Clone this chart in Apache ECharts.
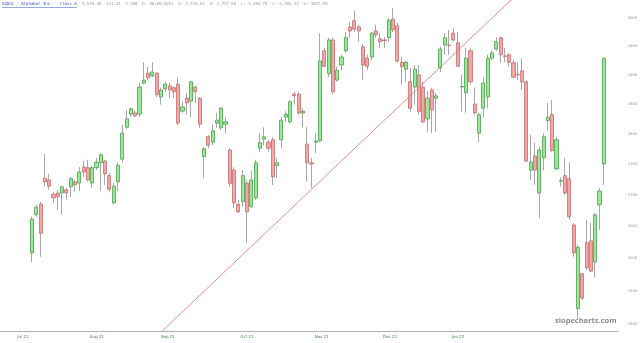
<!DOCTYPE html>
<html>
<head>
<meta charset="utf-8">
<script src="https://cdn.jsdelivr.net/npm/echarts@6/dist/echarts.min.js"></script>
<style>html,body{margin:0;padding:0;background:#fff}#c{width:640px;height:343px}</style>
</head>
<body>
<div id="c"></div>
<script>
// ---- data ----
const opens  = [2608,2668,2685,2727,2724,2701,2703,2703,2708,2713,2721,2719,2745,2744,2719,2744,2752,2755,2731,2687,2721,2758,2811,2833,2835,2833,2886,2903,2898,2903,2862,2876,2881,2878,2884,2838,2860,2855,2879,2860,2762,2795,2786,2818,2810,2816,2773,2740,2685,2689,2719,2681,2695,2776,2791,2786,2790,2747,2790,2828,2820,2867,2867,2835,2783,2752,2786,2788,2942,2902,2961,2891,2917,2942,2984,2995,2984,2949,2929,2931,2977,2963,2961,2965,2998,2986,2922,2910,2888,2879,2900,2879,2825,2874,2860,2912,2952,2952,2973,2956,2879,2869,2942,2850,2801,2843,2862,2929,2945,2965,2933,2935,2921,2901,2907,2888,2740,2763,2703,2760,2822,2832,2742,2722,2731,2726,2652,2523,2576,2624,2627,2594,2684,2750];
const closes = [2661,2680,2639,2721,2714,2695,2697,2713,2703,2726,2716,2737,2737,2724,2744,2753,2765,2734,2709,2714,2748,2801,2825,2842,2830,2879,2891,2895,2905,2866,2874,2884,2874,2871,2818,2845,2852,2888,2871,2816,2775,2781,2805,2823,2843,2820,2718,2687,2673,2731,2673,2724,2752,2785,2795,2776,2729,2752,2823,2833,2854,2864,2835,2838,2752,2750,2788,2924,2915,2961,2871,2908,2931,2965,2977,2980,2977,2917,2915,2973,2970,2958,2960,2996,2979,2924,2914,2922,2843,2910,2837,2820,2860,2840,2864,2945,2965,2951,2961,2915,2880,2929,2888,2835,2832,2886,2929,2938,2958,2935,2932,2922,2896,2900,2888,2755,2753,2740,2773,2795,2828,2772,2790,2723,2703,2665,2608,2617,2539,2585,2580,2668,2706,2929];
const lows   = [2594,2665,2602,2713,2708,2687,2676,2668,2692,2697,2705,2706,2729,2721,2711,2740,2706,2716,2705,2685,2706,2753,2808,2828,2828,2828,2884,2891,2896,2862,2849,2871,2860,2860,2815,2835,2832,2828,2852,2810,2727,2776,2781,2810,2806,2801,2713,2679,2671,2681,2624,2679,2692,2770,2781,2770,2716,2727,2776,2820,2818,2849,2832,2811,2721,2711,2768,2786,2914,2896,2866,2888,2908,2938,2965,2975,2958,2891,2908,2926,2965,2947,2947,2958,2975,2921,2883,2888,2837,2849,2832,2818,2803,2801,2803,2905,2935,2935,2958,2914,2837,2835,2883,2832,2786,2827,2843,2926,2942,2921,2922,2914,2895,2891,2874,2753,2724,2716,2663,2740,2806,2770,2740,2713,2700,2660,2602,2506,2536,2582,2579,2570,2644,2716];
const highs  = [2665,2684,2689,2767,2734,2705,2708,2714,2711,2729,2724,2745,2755,2757,2747,2760,2768,2757,2735,2719,2753,2815,2840,2843,2840,2886,2922,2914,2922,2905,2878,2888,2886,2879,2895,2854,2869,2890,2881,2862,2778,2798,2816,2835,2845,2828,2776,2745,2692,2740,2724,2740,2757,2801,2811,2790,2795,2760,2828,2838,2857,2871,2871,2843,2811,2760,2800,2973,2947,2965,2965,2914,2935,2975,2993,3013,2988,2954,2935,2975,2988,2973,2966,3000,3018,2991,2931,2924,2912,2917,2917,2888,2872,2878,2869,2949,2973,2979,2982,2975,2900,2947,2947,2878,2835,2895,2935,2943,2966,2966,2947,2938,2926,2922,2929,2891,2798,2785,2778,2801,2852,2857,2795,2729,2760,2753,2655,2621,2577,2660,2655,2671,2711,2929];
// x-axis tick labels and their bar positions
const xTickPos    = [-2.1, 15.1, 31.6, 50.0, 67.4, 83.3, 99.1];
const xTickLabels = ['Jul 21', 'Aug 21', 'Sep 21', 'Oct 21', 'Nov 21', 'Dec 21', 'Jan 22'];
// price tick labels
const yTicks = [2500, 2550, 2600, 2650, 2700, 2750, 2800, 2850, 2900, 2950, 3000];
// trend line end points [bar index, price]
const trendLine = [[25, 2457.8], [115, 3058.8]];

const bodies = opens.map((o, i) => [i, o, closes[i], Math.min(o, closes[i]), Math.max(o, closes[i])]);
const wicks  = opens.map((o, i) => [i, o, closes[i], lows[i], highs[i]]);

const chart = echarts.init(document.getElementById('c'), null, {renderer: 'canvas'});
chart.setOption({
  animation: false,
  backgroundColor: '#ffffff',
  grid: {left: 0, right: 22, top: 0, bottom: 12, containLabel: false},
  xAxis: {
    type: 'value', min: -7.44, max: 136.3,
    axisLine: {show: true, lineStyle: {color: '#b0b0b0', width: 1}},
    axisTick: {show: false},
    splitLine: {show: false},
    axisLabel: {
      customValues: xTickPos,
      formatter: v => { const k = xTickPos.findIndex(p => Math.abs(p - v) < 1e-6); return k >= 0 ? xTickLabels[k] : ''; },
      fontSize: 4, color: '#4a7a4a', margin: 4, fontFamily: 'DejaVu Sans'
    }
  },
  yAxis: {
    type: 'log', logBase: 10, position: 'right',
    min: 2489.6, max: 3032.3,
    axisLine: {show: false}, axisTick: {show: false}, splitLine: {show: false},
    axisLabel: {customValues: yTicks, fontSize: 3.5, color: '#888', margin: 10, fontFamily: 'DejaVu Sans',
      formatter: v => String(Math.round(v))}
  },
  series: [
    {
      type: 'candlestick', data: wicks, barWidth: 1,
      itemStyle: {color: '#a8a8a8', color0: '#a8a8a8', borderColor: '#a8a8a8', borderColor0: '#a8a8a8', borderWidth: 1}
    },
    {
      type: 'candlestick', data: bodies, barWidth: 3.6,
      itemStyle: {color: '#96ea96', color0: '#f2a6a6', borderColor: '#4f9f4f', borderColor0: '#c46e6e', borderWidth: 0.8}
    },
    {
      type: 'line', data: trendLine, symbol: 'none', clip: true,
      lineStyle: {color: '#e87070', width: 0.8}, z: 5
    }
  ],
  graphic: [
    {type: 'text', left: 2, top: 2, style: {text: 'GOOGL - Alphabet Inc. - Class A', fontSize: 4, fill: '#3355bb', fontFamily: 'DejaVu Sans Mono'}},
    {type: 'rect', left: 2, top: 7.5, shape: {width: 75, height: 0.5}, style: {fill: '#3355bb'}},
    {type: 'text', left: 82, top: 2, style: {text: '2,939.48  321.33  3.388  D: 08/05/2021  O: 2,719.61  H: 2,727.69  L: 2,694.75  C: 2,703.23  V: 3037.98', fontSize: 4, fill: '#999', fontFamily: 'DejaVu Sans Mono'}},
    {type: 'text', left: 555, top: 317, style: {text: 'slopecharts.com', fontSize: 7.5, fill: '#8a8a8a', fontFamily: 'Open Sans', fontWeight: 'bold'}}
  ]
});
</script>
</body>
</html>
